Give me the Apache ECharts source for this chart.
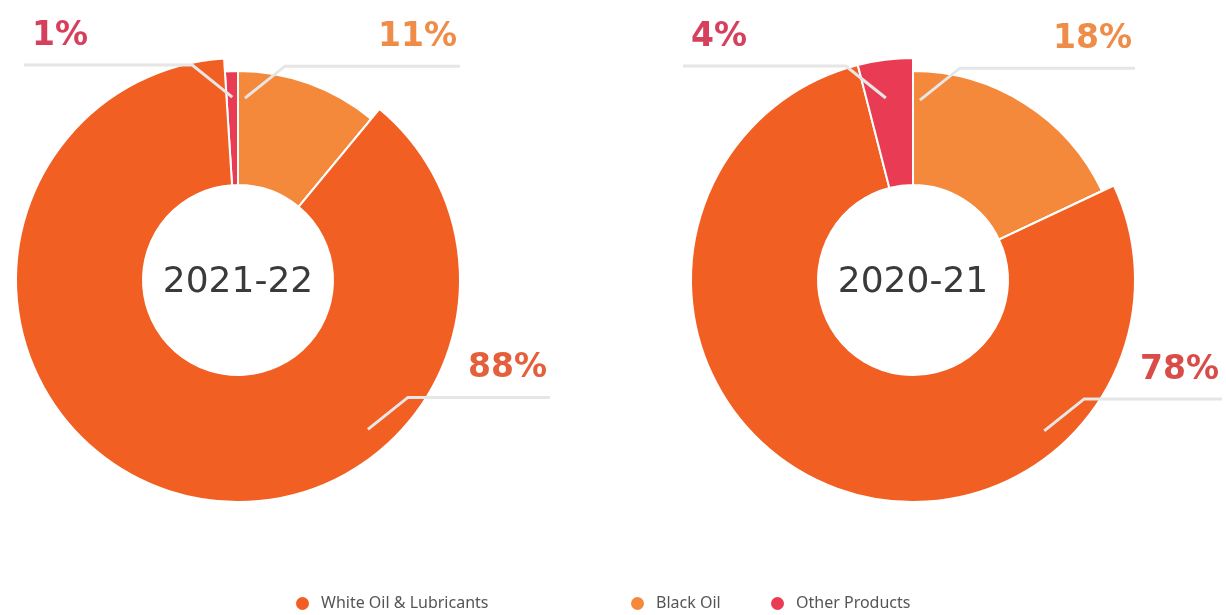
<!DOCTYPE html>
<html>
<head>
<meta charset="utf-8">
<script src="https://cdn.jsdelivr.net/npm/echarts@6/dist/echarts.min.js"></script>
<style>
  html, body { margin: 0; padding: 0; background: #ffffff; }
  #chart { width: 1226px; height: 615px; }
</style>
</head>
<body>
<div id="chart"></div>
<script>
// Product mix by fiscal year (share of volume, %)
const categories = ['White Oil & Lubricants', 'Black Oil', 'Other Products'];
const periods = ['2021-22', '2020-21'];
const share2122 = [88, 11, 1];
const share2021 = [78, 18, 4];

// Styling
const sliceColors = ['#F15F22', '#F5893B', '#EA3B55'];
const FONT_NUM = 'DejaVu Sans';
const FONT_TEXT = 'Noto Sans';
const INNER_R = 95;
const OUTER_R = 222;
const LOW_R = 209;
const CLEAR = 'rgba(0,0,0,0)';

// Slices run clockwise from 12 o'clock: Black Oil, White Oil, Other Products
const drawOrder = [1, 0, 2];

// Per-donut layout: centre, which slices sit at the full radius, and leader-line guides
const donuts = [
  {
    period: periods[0], values: share2122, cx: 238, cy: 280,
    raised: [true, false, false],
    labelColors: ['#E4603A', '#EE8C48', '#D5405C'],
    guides: [
      { angle: 139, r: 198, dir: 1, reach: 312 },
      { angle: 2.2, r: 182, dir: 1, reach: 222 },
      { angle: -1.8, r: 183, dir: -1, reach: 214 }
    ]
  },
  {
    period: periods[1], values: share2021, cx: 913, cy: 280,
    raised: [true, false, true],
    labelColors: ['#DA4C48', '#EE8C48', '#D5405C'],
    guides: [
      { angle: 139, r: 200, dir: 1, reach: 309 },
      { angle: 2.2, r: 180, dir: 1, reach: 222 },
      { angle: -8.5, r: 184, dir: -1, reach: 230 }
    ]
  }
];

function pieBase(d, z, radius) {
  return {
    type: 'pie',
    z: z,
    center: [d.cx, d.cy],
    radius: radius,
    startAngle: 90,
    clockwise: true,
    silent: true,
    avoidLabelOverlap: false,
    emphasis: { disabled: true }
  };
}

const series = [];
const graphics = [];

donuts.forEach(function (d) {
  // Base ring: every slice at the lower radius
  series.push(Object.assign(pieBase(d, 2, [INNER_R, LOW_R]), {
    label: { show: false },
    labelLine: { show: false },
    itemStyle: { borderColor: '#ffffff', borderWidth: 2 },
    data: drawOrder.map(function (ci) {
      return { name: categories[ci], value: d.values[ci], itemStyle: { color: sliceColors[ci] } };
    })
  }));

  // Raised slices drawn at the full radius
  series.push(Object.assign(pieBase(d, 3, [INNER_R, OUTER_R]), {
    label: { show: false },
    labelLine: { show: false },
    data: drawOrder.map(function (ci) {
      return {
        name: categories[ci],
        value: d.values[ci],
        itemStyle: d.raised[ci]
          ? { color: sliceColors[ci], borderColor: '#ffffff', borderWidth: 2 }
          : { color: CLEAR, borderWidth: 0 }
      };
    })
  }));

  // Invisible top ring carrying the value labels and leader lines
  series.push(Object.assign(pieBase(d, 4, [INNER_R, OUTER_R]), {
    label: {
      show: true,
      position: 'outside',
      formatter: '{c}%',
      fontFamily: FONT_NUM,
      fontWeight: 'bold',
      fontSize: 33
    },
    labelLine: {
      show: true,
      length: 10,
      length2: 10,
      smooth: false,
      lineStyle: { color: '#E6E6E6', width: 3 }
    },
    labelLayout: function (p) {
      const ci = drawOrder[p.dataIndex];
      const g = d.guides[ci];
      const a = g.angle * Math.PI / 180;
      const sx = d.cx + g.r * Math.sin(a);
      const sy = d.cy - g.r * Math.cos(a);
      const kx = sx + g.dir * 40;
      const ky = sy - 32;
      const ex = d.cx + g.dir * g.reach;
      return {
        x: g.dir > 0 ? ex - 3 : ex + 8,
        y: ky - 29,
        align: g.dir > 0 ? 'right' : 'left',
        verticalAlign: 'middle',
        labelLinePoints: [[sx, sy], [kx, ky], [ex, ky]]
      };
    },
    data: drawOrder.map(function (ci) {
      return {
        name: categories[ci],
        value: d.values[ci],
        itemStyle: { color: CLEAR, borderWidth: 0 },
        label: { color: d.labelColors[ci] }
      };
    })
  }));

  // Year in the donut hole
  graphics.push({
    type: 'text',
    x: d.cx,
    y: d.cy + 3,
    z: 10,
    style: {
      text: d.period,
      align: 'center',
      verticalAlign: 'middle',
      fontFamily: FONT_NUM,
      fontSize: 36,
      fill: '#3A3A3A'
    }
  });
});

const legendLeft = [289, 624, 764];

const option = {
  backgroundColor: '#ffffff',
  animation: false,
  legend: categories.map(function (c, i) {
    return {
      data: [c],
      left: legendLeft[i],
      top: 590,
      icon: 'circle',
      itemWidth: 15,
      itemHeight: 15,
      selectedMode: false,
      textStyle: { fontFamily: FONT_TEXT, fontSize: 16, color: '#555555', padding: [0, 0, 0, 6] }
    };
  }),
  graphic: graphics,
  series: series
};

const chart = echarts.init(document.getElementById('chart'), null, { renderer: 'canvas' });
chart.setOption(option);
</script>
</body>
</html>
